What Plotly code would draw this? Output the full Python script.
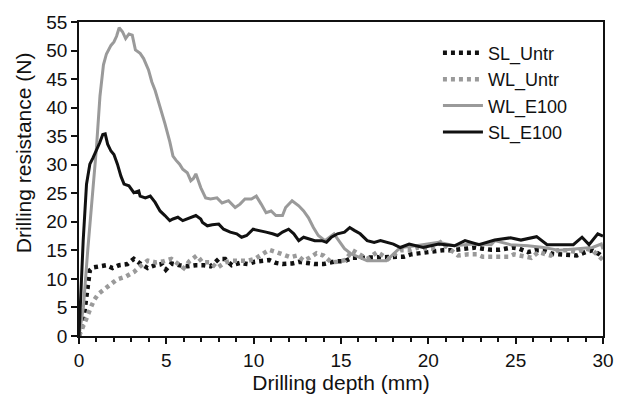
import plotly.graph_objects as go

# ---- data ----
sl_untr_x = [0, 0.15, 0.3, 0.4, 0.5, 0.62, 0.8, 1.08, 1.55, 1.92, 2.3, 2.77, 3.14, 3.5, 3.93, 4.36, 4.73, 4.97,
             5.29, 5.76, 6.23, 6.7, 7.16, 7.53, 8.0, 8.37, 8.75, 9.22, 9.69, 10.06, 10.5, 10.9, 11.27, 11.65,
             12.2, 12.6, 13.05, 13.5, 14.0, 14.36, 14.7, 15.2, 15.66, 16.1, 17.0, 18.0, 18.6, 19.0, 19.5, 19.9,
             20.3, 20.8, 21.3, 22.2, 22.7, 23.1, 23.6, 24.1, 24.8, 25.2, 25.7, 26.1, 26.6, 27.1, 27.5, 28.0,
             28.5, 29.0, 29.4, 29.8, 30]
sl_untr_y = [0, 1.5, 4.0, 6.5, 9.5, 11.5, 12.0, 12.2, 12.4, 11.9, 12.4, 12.6, 13.5, 12.7, 11.9, 12.4, 12.6, 11.6,
             12.7, 12.4, 12.2, 12.4, 12.4, 12.2, 13.5, 13.5, 12.4, 12.8, 12.6, 13.0, 13.2, 13.3, 12.8, 12.6,
             12.7, 13.0, 12.8, 12.6, 12.6, 12.8, 13.1, 13.1, 13.7, 13.7, 13.8, 13.9, 13.9, 14.3, 14.5, 14.5,
             14.7, 15.0, 15.0, 15.3, 15.5, 15.3, 15.1, 15.1, 15.5, 15.3, 14.7, 15.0, 15.0, 14.4, 14.3, 14.3,
             14.1, 14.7, 15.0, 14.3, 13.7]

wl_untr_x = [0, 0.15, 0.3, 0.43, 0.62, 0.86, 1.12, 1.5, 1.87, 2.17, 2.67, 3.14, 3.5, 3.93, 4.4, 4.86, 5.29, 5.72,
             6.0, 6.32, 6.75, 7.07, 7.53, 7.9, 8.37, 8.75, 9.22, 9.69, 10.06, 10.5, 10.9, 11.3, 11.74, 12.1,
             12.5, 12.86, 13.2, 13.6, 14.0, 14.45, 14.8, 15.25, 15.66, 16.1, 16.5, 17.07, 17.7, 18.4, 18.9,
             19.4, 20.2, 20.7, 21.3, 21.7, 22.3, 22.8, 23.1, 23.6, 24.2, 24.6, 24.9, 25.4, 25.9, 26.3, 27.0,
             27.4, 28.0, 28.5, 29.0, 29.4, 29.9, 30]
wl_untr_y = [0, 1.0, 1.9, 3.1, 4.6, 6.3, 7.4, 8.3, 9.0, 9.9, 10.4, 11.2, 12.2, 13.2, 12.9, 13.1, 13.5, 12.5,
             11.9, 13.1, 14.1, 12.9, 12.9, 11.9, 12.9, 13.2, 13.2, 13.2, 13.5, 14.4, 15.1, 14.7, 14.3, 13.8,
             14.1, 13.2, 13.7, 14.5, 14.1, 12.9, 13.0, 13.3, 15.0, 14.1, 13.5, 14.7, 13.5, 15.0, 15.0,
             15.5, 15.3, 16.4, 15.0, 14.1, 14.3, 14.3, 13.9, 13.9, 13.9, 13.9, 14.3, 13.9, 13.7, 14.7, 14.1,
             15.0, 15.0, 14.7, 15.3, 15.0, 13.7, 13.3]

wl_e100_x = [0, 0.25, 0.5, 0.75, 1.0, 1.2, 1.4, 1.57, 1.83, 2.0, 2.15, 2.3, 2.49, 2.67, 2.86, 3.05, 3.23, 3.5,
             3.7, 3.98, 4.17, 4.36, 4.64, 4.92, 5.2, 5.38, 5.55, 5.76, 5.94, 6.2, 6.4, 6.55, 6.69, 6.97, 7.25,
             7.53, 7.9, 8.19, 8.56, 8.94, 9.22, 9.5, 9.87, 10.15, 10.43, 10.71, 11.0, 11.27, 11.65, 11.83,
             12.2, 12.58, 12.86, 13.14, 13.42, 13.7, 14.08, 14.36, 14.6, 15.2, 15.57, 16.5, 17.6, 18.4, 19.3,
             20.6, 21.5, 22.5, 23.6, 23.8, 24.7, 25.7, 26.6, 27.5, 28.5, 29.4, 29.9, 30]
wl_e100_y = [0, 5, 15, 24, 33, 42, 47.5, 49.4, 50.9, 51.5, 52.5, 54.0, 53.3, 52.1, 52.9, 52.7, 50.1, 49.5,
             48.6, 46.6, 44.5, 43.0, 40.2, 37.2, 34.0, 31.5, 30.8, 30.1, 29.2, 28.6, 27.2, 27.6, 28.4, 26.0, 24.2,
             24.0, 24.2, 23.3, 23.7, 22.5, 23.1, 24.0, 24.0, 24.5, 23.1, 21.6, 21.9, 21.1, 21.1, 22.5,
             23.7, 22.8, 21.9, 20.7, 19.0, 17.6, 16.7, 17.3, 17.9, 15.3, 14.4, 13.2, 13.2, 15.5, 15.8,
             16.4, 15.8, 16.1, 16.0, 16.7, 16.0, 15.8, 15.5, 15.0, 15.2, 15.5, 16.1, 15.2]

sl_e100_x = [0, 0.1, 0.24, 0.43, 0.62, 0.8, 0.99, 1.18, 1.36, 1.5, 1.64, 1.83, 2.0, 2.2, 2.4, 2.58, 2.86, 3.14,
             3.42, 3.5, 3.8, 4.08, 4.36, 4.64, 4.92, 5.2, 5.38, 5.66, 5.94, 6.23, 6.5, 6.69, 6.97, 7.07, 7.35,
             7.63, 8.0, 8.28, 8.66, 9.03, 9.31, 9.6, 9.97, 10.34, 10.71, 11.08, 11.37, 11.65, 12.0, 12.3, 12.58,
             12.86, 13.14, 13.5, 13.9, 14.17, 14.45, 14.8, 15.2, 15.5, 15.76, 16.1, 16.5, 16.9, 17.26, 17.6,
             18.0, 18.4, 18.9, 19.7, 20.6, 21.5, 22.1, 22.9, 23.8, 24.7, 25.3, 26.2, 26.8, 27.5, 28.3, 28.8,
             29.2, 29.7, 30]
sl_e100_y = [0, 8, 16.7, 26.6, 30.1, 31.2, 32.4, 33.8, 35.3, 35.4, 33.6, 32.4, 31.8, 30.1, 28.0, 26.6, 26.3, 25.1,
             25.4, 24.5, 24.2, 24.5, 23.4, 21.9, 21.1, 20.2, 20.5, 20.8, 20.2, 20.5, 20.8, 21.1, 20.5, 19.9, 19.3,
             19.5, 19.6, 18.7, 18.2, 17.9, 17.3, 17.6, 18.7, 18.5, 18.2, 17.9, 17.6, 18.2, 18.7, 17.9, 16.7,
             17.3, 17.0, 16.7, 16.7, 16.4, 17.3, 17.9, 18.2, 19.0, 18.5, 17.9, 16.7, 16.4, 16.7, 16.4,
             16.1, 15.5, 16.1, 15.5, 16.1, 15.8, 16.7, 16.0, 16.8, 17.2, 16.8, 17.4, 16.0, 16.0, 16.0, 17.3,
             16.0, 17.9, 17.5]

x_ticks = [0, 5, 10, 15, 20, 25, 30]
y_ticks = [0, 5, 10, 15, 20, 25, 30, 35, 40, 45, 50, 55]

BLACK = "#111111"
GRAY = "#9a9a9a"
FONT = "Arial, Liberation Sans, sans-serif"

fig = go.Figure()
fig.add_trace(go.Scatter(x=sl_untr_x, y=sl_untr_y, mode="lines", name="SL_Untr",
                         line=dict(color=BLACK, width=4.5, dash="4px,4px")))
fig.add_trace(go.Scatter(x=wl_untr_x, y=wl_untr_y, mode="lines", name="WL_Untr",
                         line=dict(color=GRAY, width=4.5, dash="4px,4px")))
fig.add_trace(go.Scatter(x=wl_e100_x, y=wl_e100_y, mode="lines", name="WL_E100",
                         line=dict(color=GRAY, width=3)))
fig.add_trace(go.Scatter(x=sl_e100_x, y=sl_e100_y, mode="lines", name="SL_E100",
                         line=dict(color=BLACK, width=3)))

fig.update_layout(
    width=626, height=403,
    margin=dict(l=79, r=12, t=20, b=67),
    paper_bgcolor="white", plot_bgcolor="white",
    font=dict(family=FONT, size=18, color=BLACK),
    showlegend=True,
    legend=dict(x=0.685, y=0.96, xanchor="left", yanchor="top",
                bgcolor="rgba(0,0,0,0)", font=dict(size=18, family=FONT, color=BLACK),
                itemwidth=40, tracegroupgap=0),
    annotations=[dict(text="Drilling resistance (N)", xref="paper", yref="paper",
                      x=-0.107, y=0.585, xanchor="center", yanchor="middle", textangle=-90,
                      showarrow=False, font=dict(size=21, family=FONT, color=BLACK))],
)
fig.update_xaxes(range=[0, 30], tickvals=x_ticks, ticktext=[str(v) for v in x_ticks],
                 showgrid=False, zeroline=False, showline=True, linecolor=BLACK, linewidth=1.8,
                 mirror=True, ticks="outside", ticklen=6, tickwidth=1.5, tickcolor=BLACK,
                 minor=dict(dtick=1, ticks="outside", ticklen=4, tickwidth=1.5, tickcolor=BLACK, showgrid=False),
                 tickfont=dict(size=19, family=FONT),
                 title=dict(text="Drilling depth (mm)", font=dict(size=21, family=FONT), standoff=6))
fig.update_yaxes(range=[0, 55], tickvals=y_ticks, ticktext=[str(v) for v in y_ticks],
                 showgrid=False, zeroline=False, showline=True, linecolor=BLACK, linewidth=1.8,
                 mirror=True, ticks="outside", ticklen=6, tickwidth=1.5, tickcolor=BLACK,
                 tickfont=dict(size=19, family=FONT))

fig.write_html("out.html")
